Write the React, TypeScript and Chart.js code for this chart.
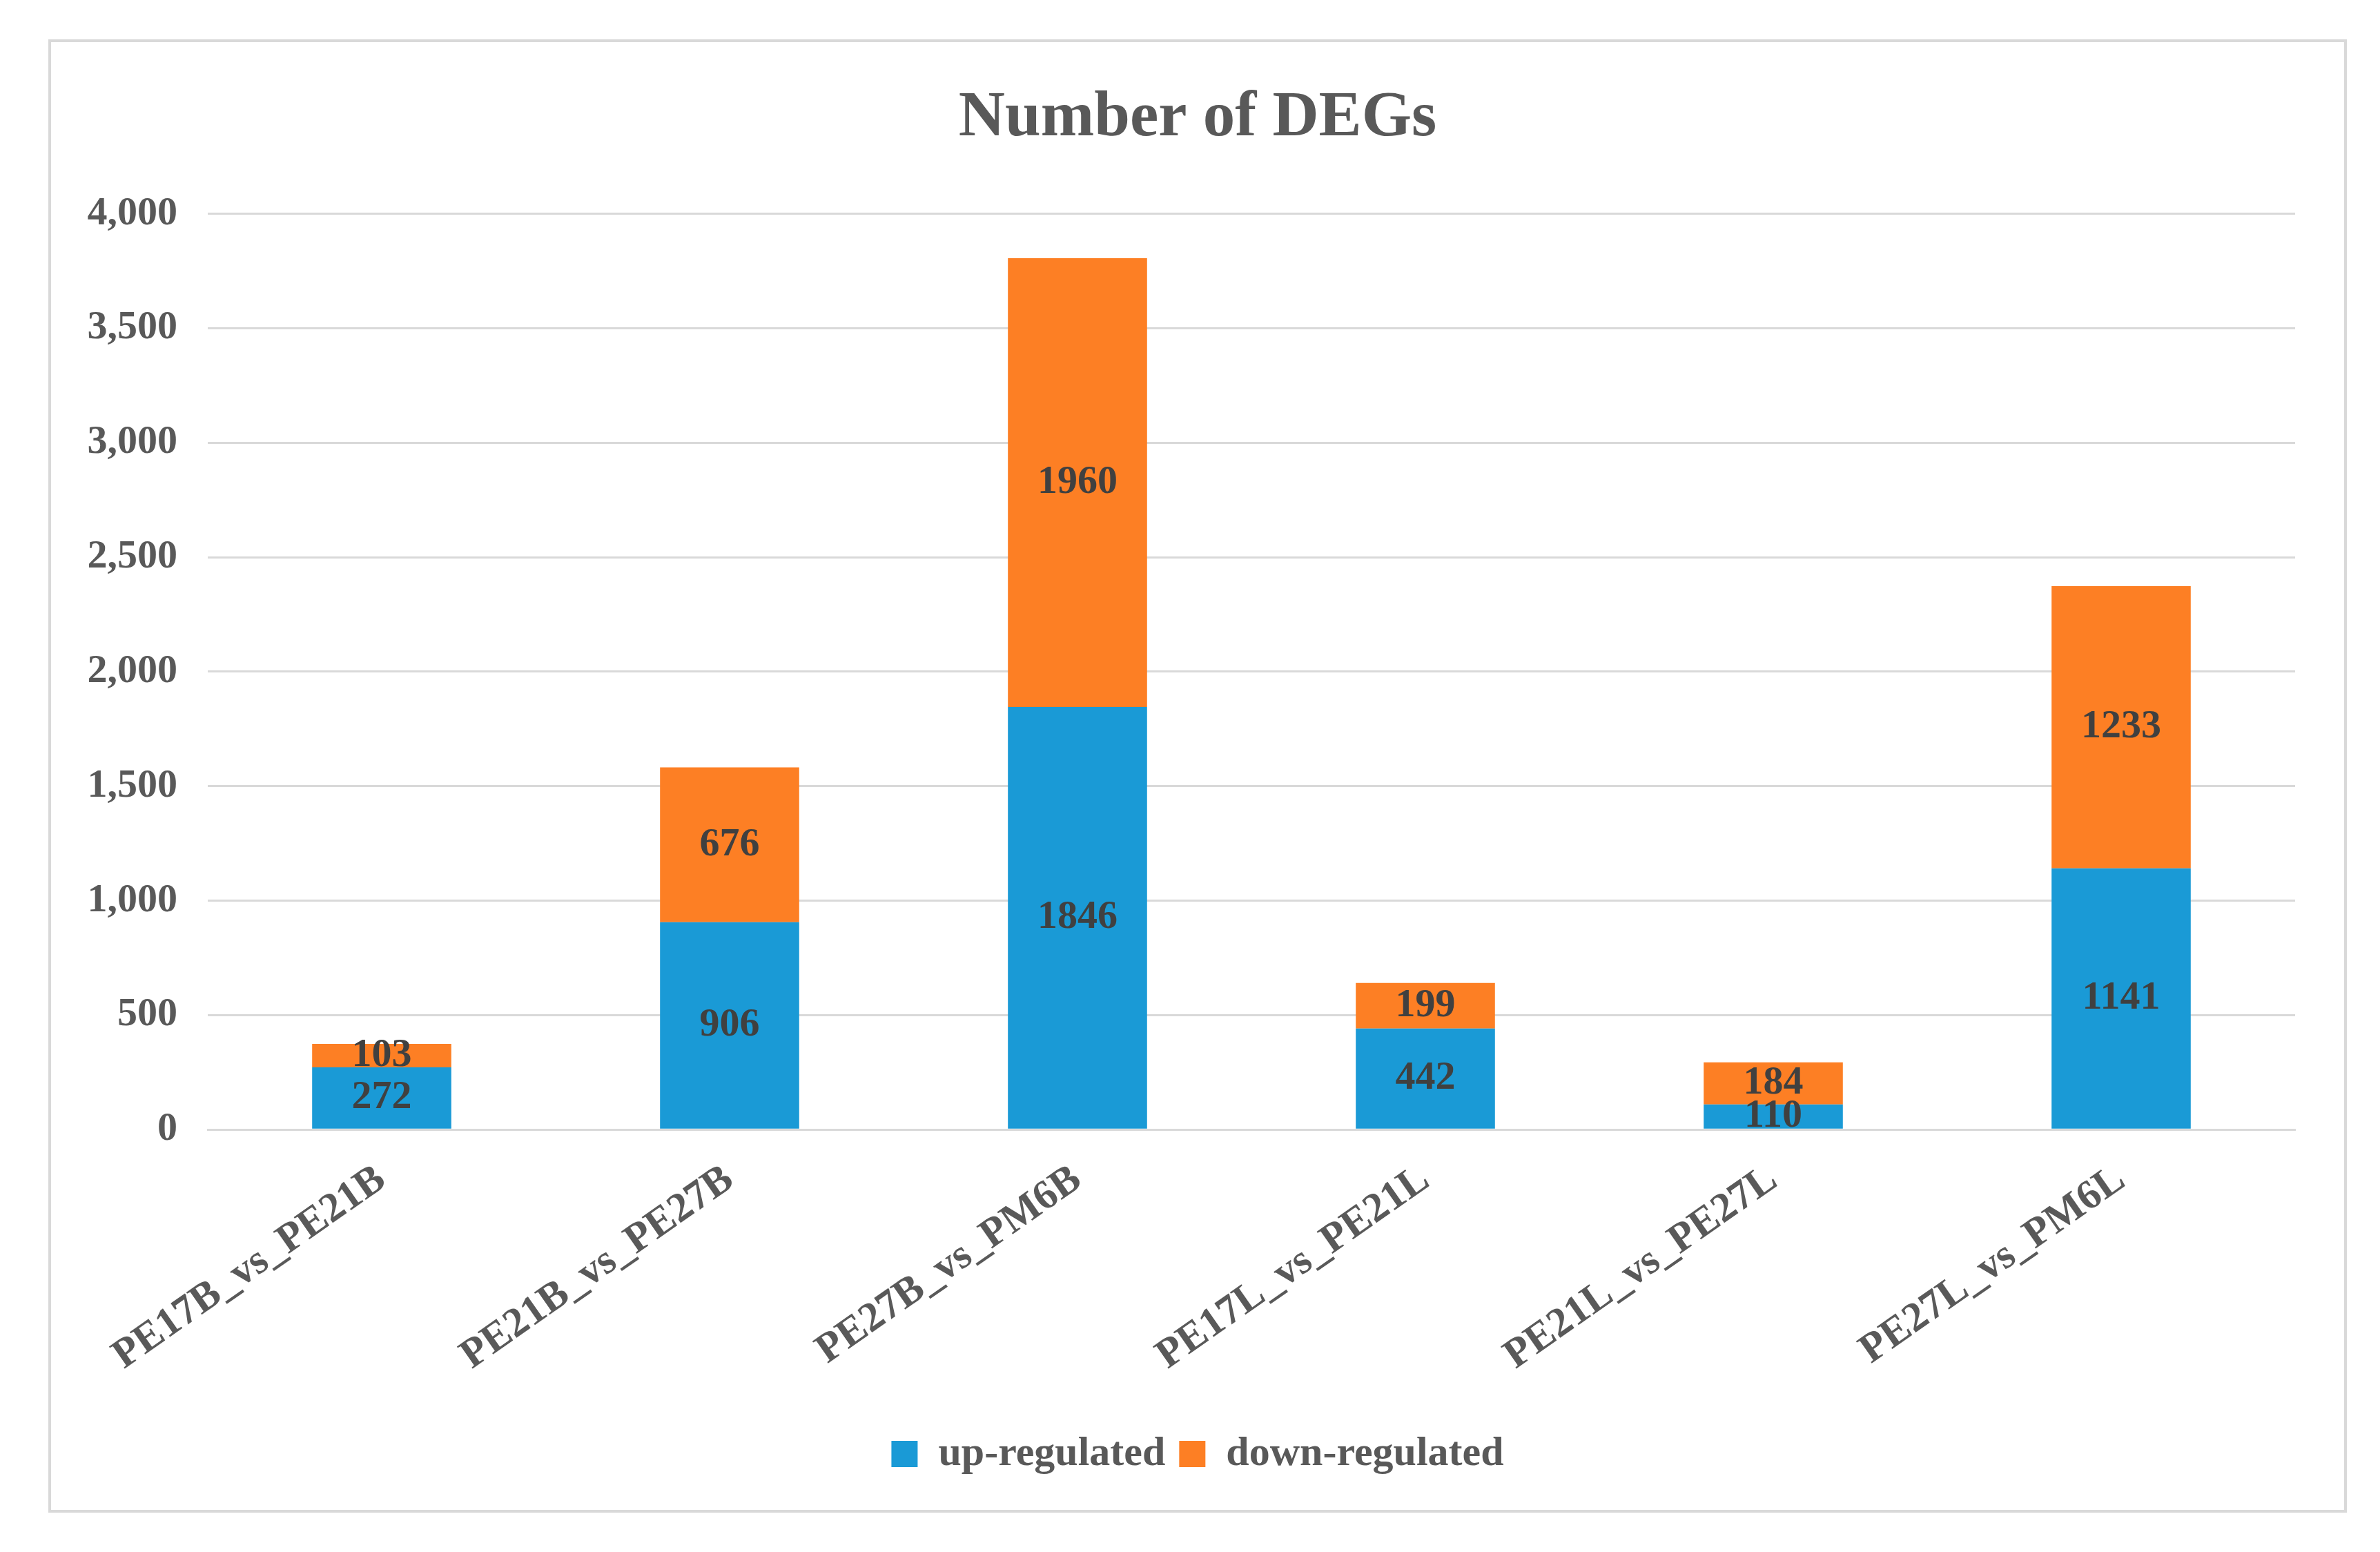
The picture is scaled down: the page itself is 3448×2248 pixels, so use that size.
import React, { useEffect, useRef } from "react";
import { Chart, registerables } from "chart.js";

Chart.register(...registerables);

const categories = [
  "PE17B_vs_PE21B",
  "PE21B_vs_PE27B",
  "PE27B_vs_PM6B",
  "PE17L_vs_PE21L",
  "PE21L_vs_PE27L",
  "PE27L_vs_PM6L",
];
const upRegulated = [272, 906, 1846, 442, 110, 1141];
const downRegulated = [103, 676, 1960, 199, 184, 1233];
const seriesNames = ["up-regulated", "down-regulated"];
const titleText = "Number of DEGs";

const FONT = "'Liberation Serif', 'Times New Roman', serif";

const segmentLabels = {
  id: "segmentLabels",
  afterDatasetsDraw(chart: any) {
    const ctx = chart.ctx;
    ctx.save();
    ctx.font = `bold 58px ${FONT}`;
    ctx.fillStyle = "#404040";
    ctx.textAlign = "center";
    ctx.textBaseline = "middle";
    chart.data.datasets.forEach((ds: any, di: number) => {
      const meta = chart.getDatasetMeta(di);
      meta.data.forEach((el: any, i: number) => {
        const y = (el.y + el.base) / 2;
        ctx.fillText(String(ds.data[i]), el.x, y);
      });
    });
    ctx.restore();
  },
};

export default function App() {
  const ref = useRef<HTMLCanvasElement | null>(null);
  useEffect(() => {
    if (!ref.current) return;
    const chart = new Chart(ref.current, {
      type: "bar",
      data: {
        labels: categories,
        datasets: [
          {
            label: seriesNames[0],
            data: upRegulated,
            backgroundColor: "#1A9AD6",
            categoryPercentage: 1,
            barPercentage: 0.4,
          },
          {
            label: seriesNames[1],
            data: downRegulated,
            backgroundColor: "#FD7F24",
            categoryPercentage: 1,
            barPercentage: 0.4,
          },
        ],
      },
      options: {
        animation: false,
        responsive: true,
        maintainAspectRatio: false,
        layout: { padding: { top: 55, right: 40, bottom: 41, left: 40 } },
        plugins: {
          title: {
            display: true,
            text: titleText,
            color: "#595959",
            font: { family: FONT, size: 93, weight: "bold" },
            padding: { top: 0, bottom: 82 },
          },
          legend: {
            position: "bottom",
            labels: {
              color: "#595959",
              font: { family: FONT, size: 60, weight: "bold" },
              boxWidth: 38,
              boxHeight: 38,
              padding: 20,
            },
          },
          tooltip: { enabled: false },
        },
        scales: {
          x: {
            stacked: true,
            grid: { display: false, drawTicks: false },
            border: { display: true, color: "#D9D9D9", width: 3 },
            ticks: {
              color: "#595959",
              font: { family: FONT, size: 60, weight: "bold" },
              minRotation: 35,
              maxRotation: 35,
              padding: 37,
            },
            afterFit: (scale: any) => {
              scale.height += 19;
            },
          },
          y: {
            stacked: true,
            min: 0,
            max: 4000,
            grid: { color: "#D9D9D9", lineWidth: 3, drawTicks: false },
            border: { display: false },
            ticks: {
              stepSize: 500,
              color: "#595959",
              font: { family: FONT, size: 58, weight: "bold" },
              padding: 44,
              callback: (v: any) => Number(v).toLocaleString("en-US"),
            },
            afterFit: (scale: any) => {
              scale.width = 187;
            },
          },
          spacer: {
            type: "linear",
            position: "right",
            display: true,
            grid: { display: false, drawTicks: false },
            border: { display: false },
            ticks: { display: false },
            afterFit: (scale: any) => {
              scale.width = 31;
            },
          },
        },
      },
      plugins: [segmentLabels],
    });
    return () => chart.destroy();
  }, []);

  return (
    <div
      style={{
        position: "fixed",
        left: 0,
        top: 0,
        width: "100vw",
        height: "100vh",
        background: "#fff",
      }}
    >
      <div
        style={{
          position: "absolute",
          left: 70,
          top: 57,
          width: 3330,
          height: 2134,
          border: "4px solid #D9D9D9",
          boxSizing: "border-box",
          background: "#fff",
        }}
      >
        <canvas ref={ref} />
      </div>
    </div>
  );
}
